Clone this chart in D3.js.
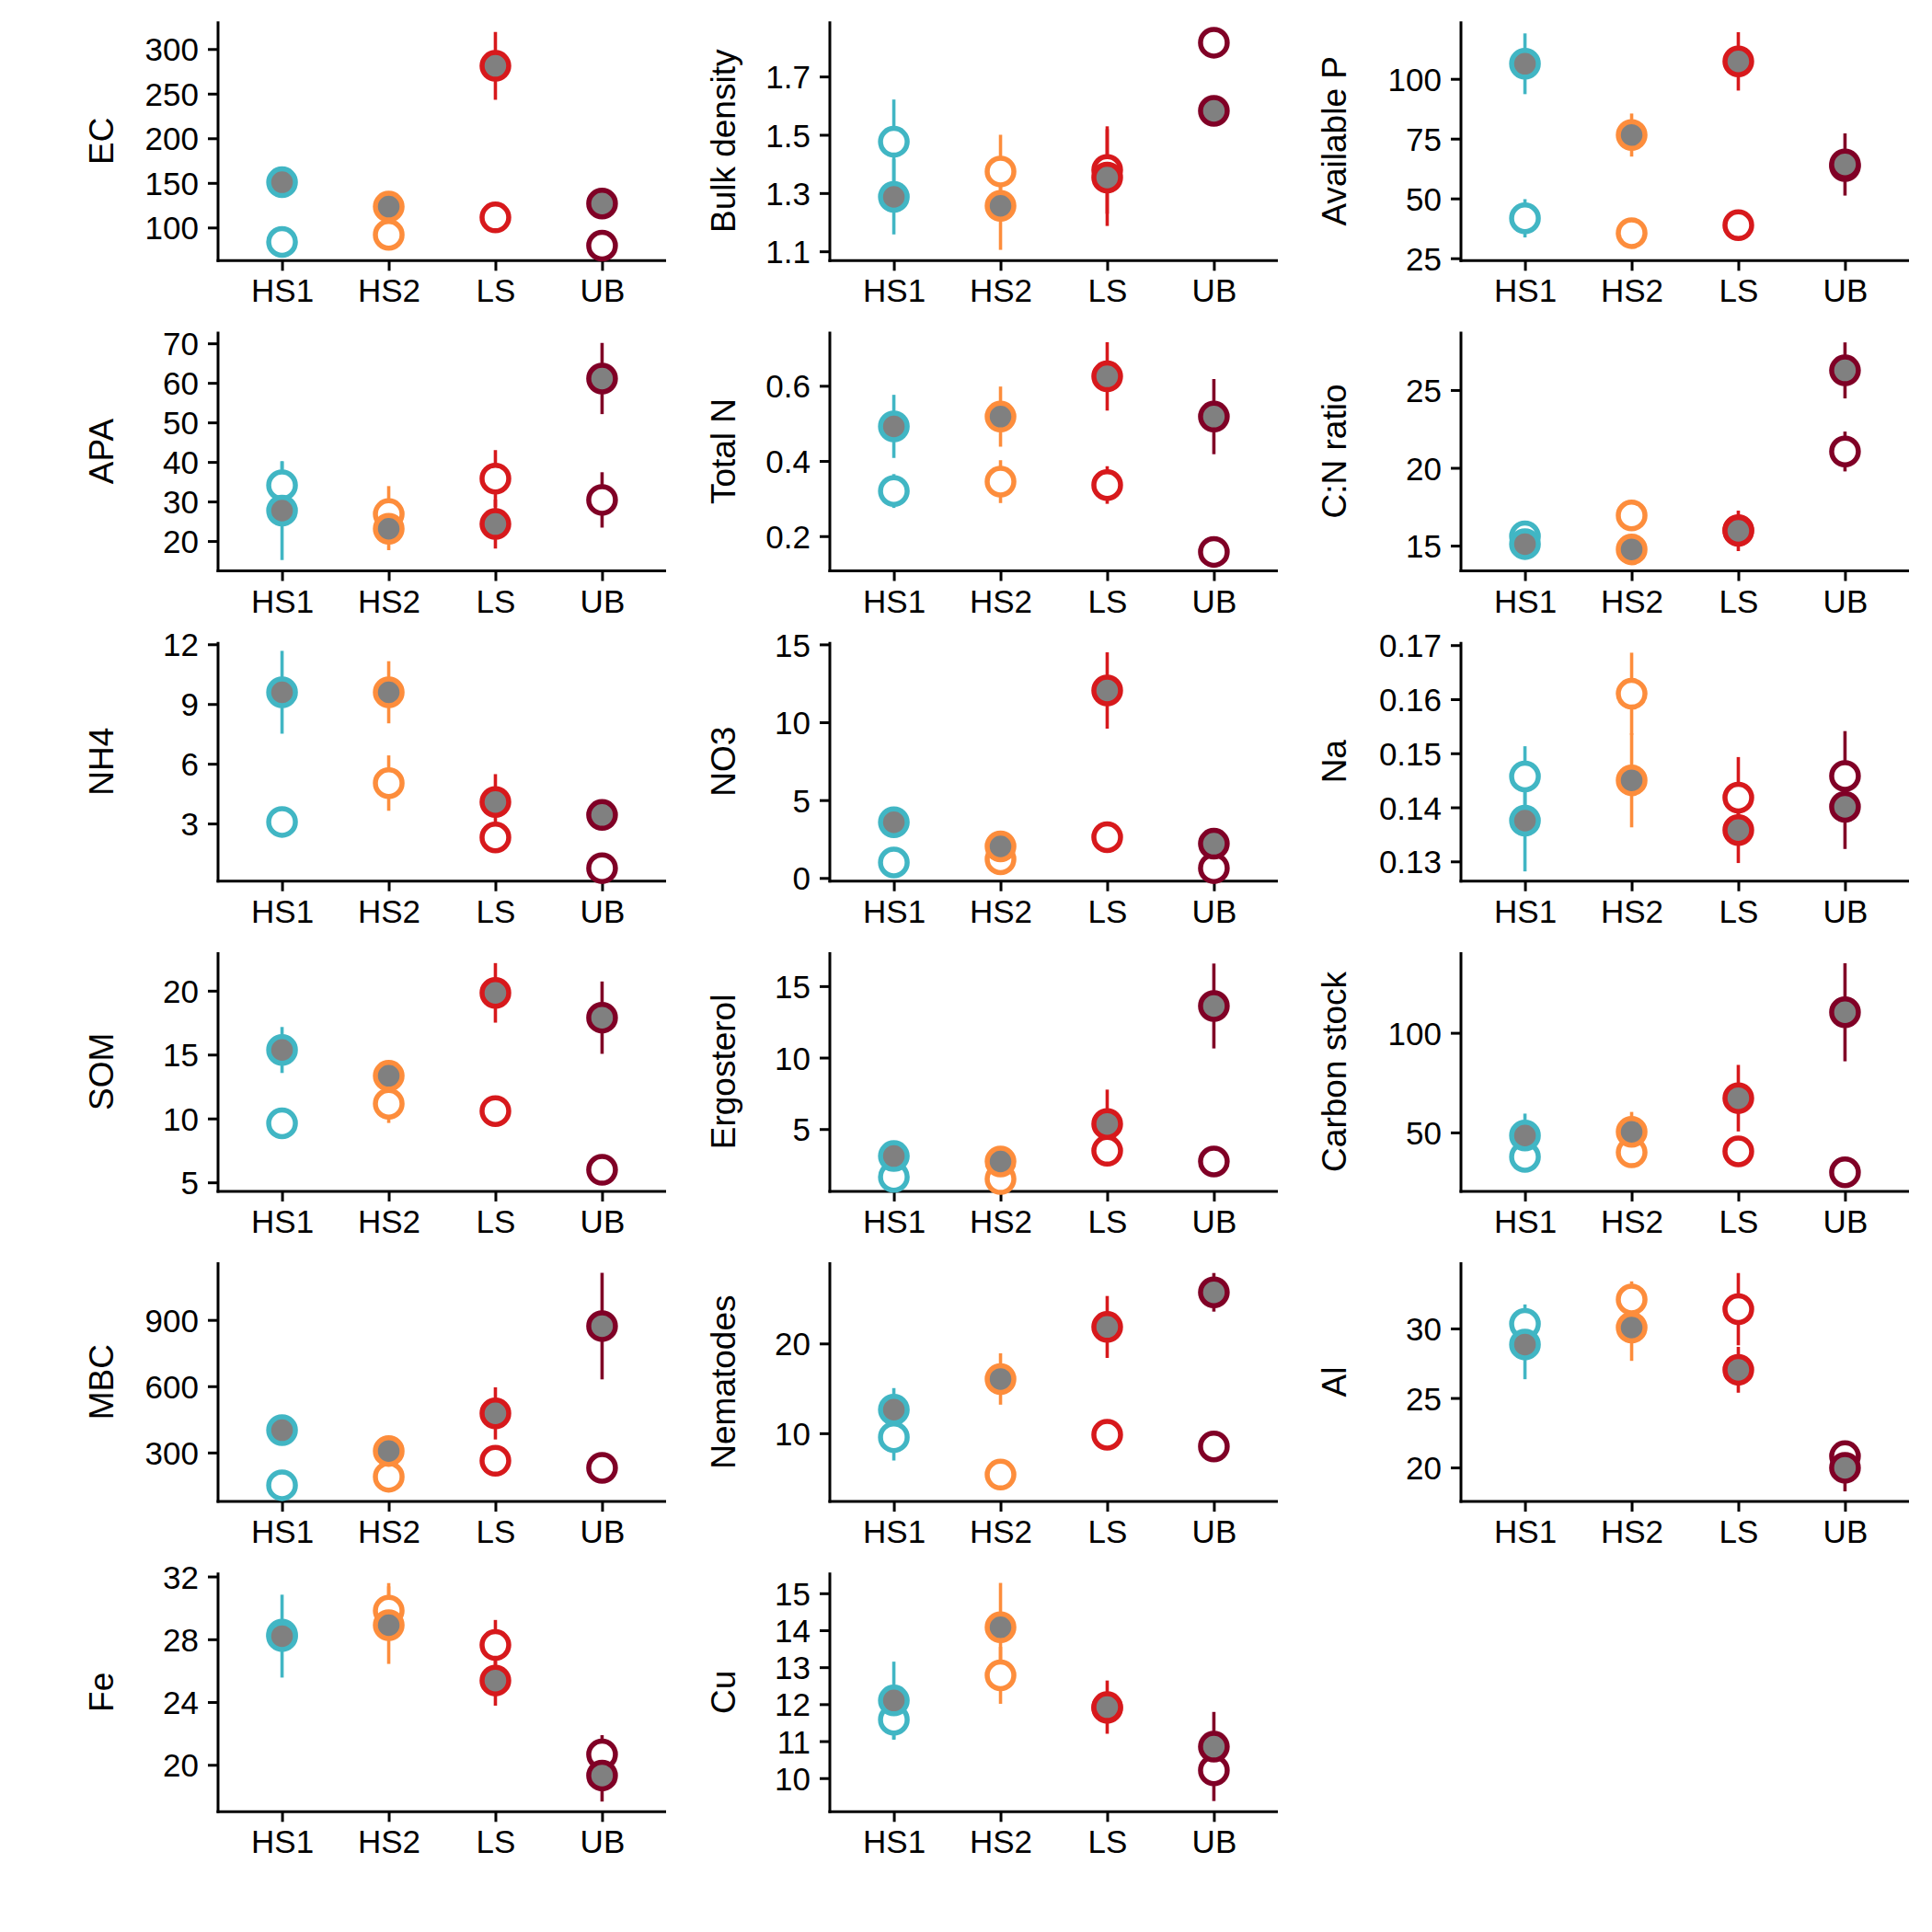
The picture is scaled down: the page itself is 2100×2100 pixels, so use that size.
<!DOCTYPE html>
<html>
<head>
<meta charset="utf-8">
<script src="https://cdn.jsdelivr.net/npm/d3@7"></script>
<style>
  html, body { margin: 0; padding: 0; background: #ffffff; }
  svg { display: block; }
  text { font-family: "Liberation Sans", Arial, Helvetica, sans-serif; fill: #000; }
</style>
</head>
<body>
<svg id="chart" width="2100" height="2100"></svg>
<script>
// ---------------- DATA ----------------
const categories = ["HS1", "HS2", "LS", "UB"];
const categoryColors = ["#41B6C4", "#FD8D3C", "#D7191C", "#800026"];

const variables = ["EC", "Bulk density", "Available P", "APA", "Total N", "C:N ratio",
  "NH4", "NO3", "Na", "SOM", "Ergosterol", "Carbon stock",
  "MBC", "Nematodes", "Al", "Fe", "Cu"];

// filled (grey) points: mean per category
const filledMean = [
  [150.7, 123.4, 281.1, 126.8],
  [1.287, 1.256, 1.353, 1.582],
  [106.3, 76.5, 107.3, 64.2],
  [27.7, 23.1, 24.3, 61.1],
  [0.492, 0.518, 0.625, 0.518],
  [15.1, 14.76, 15.95, 26.26],
  [9.59, 9.59, 4.08, 3.43],
  [3.58, 2.03, 12.04, 2.2],
  [0.13755, 0.1450, 0.1358, 0.1401],
  [15.36, 13.34, 19.83, 17.89],
  [3.11, 2.73, 5.36, 13.61],
  [48.46, 50.3, 67.2, 110.3],
  [401, 307, 477, 872],
  [12.63, 16.04, 21.84, 25.7],
  [28.85, 30.07, 27.03, 19.98],
  [28.2, 28.9, 25.37, 19.32],
  [12.1, 14.08, 11.92, 10.85]
];
const filledErr = [
  [5, 5, 38, 4],
  [0.129, 0.151, 0.166, 0.02],
  [12.7, 9, 12.2, 13],
  [12.5, 5.4, 6.2, 9],
  [0.084, 0.08, 0.091, 0.1],
  [0.5, 0.5, 1.3, 1.8],
  [2.08, 1.56, 1.4, 0.3],
  [0.5, 0.5, 2.45, 0.3],
  [0.0094, 0.0087, 0.0061, 0.0078],
  [1.8, 1.0, 2.33, 2.83],
  [0.4, 0.4, 2.4, 2.97],
  [11, 10, 16.7, 24.6],
  [40, 40, 118, 241],
  [2.4, 2.86, 3.45, 2.15],
  [2.5, 2.4, 1.65, 1.7],
  [2.64, 2.47, 1.6, 1.66],
  [1.05, 1.2, 0.72, 0.94]
];
// open (white) points: mean per category
const openMean = [
  [83.8, 91.8, 111.3, 79.7],
  [1.476, 1.374, 1.379, 1.816],
  [41.7, 35.5, 38.8, 63.5],
  [34.1, 26.8, 35.8, 30.4],
  [0.320, 0.345, 0.336, 0.158],
  [15.6, 16.94, 16.0, 21.05],
  [3.08, 5.03, 2.30, 0.76],
  [0.99, 1.2, 2.62, 0.63],
  [0.1457, 0.161, 0.1418, 0.1458],
  [9.62, 11.15, 10.58, 5.98],
  [1.65, 1.5, 3.48, 2.73],
  [37.7, 40, 40.5, 30],
  [152, 190.5, 262.6, 230.7],
  [9.56, 5.39, 9.83, 8.53],
  [30.33, 32.09, 31.39, 20.81],
  [28.3, 29.82, 27.63, 20.66],
  [11.58, 12.78, 11.9, 10.21]
];
const openErr = [
  [4, 5, 4, 4],
  [0.145, 0.126, 0.15, 0.02],
  [8, 3, 3, 3],
  [6, 7.1, 7.2, 7],
  [0.045, 0.057, 0.05, 0.01],
  [0.5, 0.5, 0.6, 1.28],
  [0.3, 1.39, 0.3, 0.3],
  [0.3, 0.3, 0.3, 0.3],
  [0.0056, 0.0076, 0.0075, 0.0083],
  [0.4, 1.5, 0.5, 0.3],
  [0.4, 0.4, 0.4, 0.3],
  [4, 4, 4, 3],
  [25, 40, 40, 40],
  [2.6, 0.6, 0.6, 0.6],
  [1.4, 1.3, 2.6, 0.8],
  [0.8, 1.76, 1.6, 1.23],
  [0.54, 0.77, 0.3, 0.83]
];
// y-axis limits and tick values per panel
const yLimits = [
  [62.9, 330.9], [1.068, 1.889], [24.0, 124.0],
  [12.46, 72.95], [0.1076, 0.744], [13.38, 28.75],
  [0.11, 12.12], [-0.2, 15.16], [0.12636, 0.1706],
  [4.30, 23.02], [0.644, 17.38], [20.46, 140.5],
  [78.3, 1160.5], [2.39, 29.04], [17.55, 34.76],
  [17.01, 32.25], [9.09, 15.56]
];
const yTickValues = [
  [100, 150, 200, 250, 300], [1.1, 1.3, 1.5, 1.7], [25, 50, 75, 100],
  [20, 30, 40, 50, 60, 70], [0.2, 0.4, 0.6], [15, 20, 25],
  [3, 6, 9, 12], [0, 5, 10, 15], [0.13, 0.14, 0.15, 0.16, 0.17],
  [5, 10, 15, 20], [5, 10, 15], [50, 100],
  [300, 600, 900], [10, 20], [20, 25, 30],
  [20, 24, 28, 32], [10, 11, 12, 13, 14, 15]
];

// ---------------- LAYOUT ----------------
const colX = [237, 902, 1588];       // y-axis line x per column
const titleX = [110, 786, 1450];     // y-title center x per column
const panelW = 487;
const panelH = 260;
const firstTop = 23.3;
const rowStep = 337.2;
const tickFont = 35;
const titleFont = 37;
const tickLen = 11;
const ptR = 14.5;
const ptStroke = 5.5;
const errWidth = 3.6;
const greyFill = "#808080";

const svg = d3.select("#chart");
svg.append("rect").attr("width", 2100).attr("height", 2100).attr("fill", "#fff");

variables.forEach((name, i) => {
  const row = Math.floor(i / 3), col = i % 3;
  const x0 = colX[col];
  const top = firstTop + row * rowStep;
  const bottom = top + panelH;

  // ggplot-like discrete scale: positions 1..4 in [0.4, 4.6]
  const x = d3.scaleLinear().domain([0.4, 4.6]).range([x0, x0 + panelW]);
  const y = d3.scaleLinear().domain(yLimits[i]).range([bottom, top]);

  const g = svg.append("g");

  // Y axis
  const yAxis = d3.axisLeft(y)
    .tickValues(yTickValues[i])
    .tickSizeInner(tickLen).tickSizeOuter(0).tickPadding(10)
    .tickFormat(d => String(+d.toFixed(6)));
  const ya = g.append("g").attr("transform", `translate(${x0},0)`).call(yAxis);
  ya.select(".domain").remove();
  ya.selectAll(".tick line").attr("stroke", "#000").attr("stroke-width", 3);
  ya.selectAll(".tick text").attr("font-size", tickFont).attr("fill", "#000")
    .attr("dy", "0.36em").attr("font-family", "Liberation Sans, Arial, sans-serif");

  // X axis
  const xAxis = d3.axisBottom(x)
    .tickValues([1, 2, 3, 4])
    .tickSizeInner(tickLen).tickSizeOuter(0).tickPadding(9)
    .tickFormat(d => categories[d - 1]);
  const xa = g.append("g").attr("transform", `translate(0,${bottom})`).call(xAxis);
  xa.select(".domain").remove();
  xa.selectAll(".tick line").attr("stroke", "#000").attr("stroke-width", 3);
  xa.selectAll(".tick text").attr("font-size", tickFont).attr("fill", "#000")
    .attr("dy", "0.72em").attr("font-family", "Liberation Sans, Arial, sans-serif");

  // axis lines
  g.append("line").attr("x1", x0).attr("x2", x0)
    .attr("y1", top).attr("y2", bottom + 1.5)
    .attr("stroke", "#000").attr("stroke-width", 3);
  g.append("line").attr("x1", x0 - 1.5).attr("x2", x0 + panelW)
    .attr("y1", bottom).attr("y2", bottom)
    .attr("stroke", "#000").attr("stroke-width", 3);

  // Y title
  const cy = (top + bottom) / 2;
  g.append("text")
    .attr("transform", `translate(${titleX[col]},${cy}) rotate(-90)`)
    .attr("text-anchor", "middle")
    .attr("dy", "0.36em")
    .attr("font-size", titleFont)
    .text(name);

  const filled = categories.map((c, k) => ({ k, m: filledMean[i][k], e: filledErr[i][k] }));
  const open = categories.map((c, k) => ({ k, m: openMean[i][k], e: openErr[i][k] }));

  // error bars (all first)
  g.selectAll(null).data(open.concat(filled)).enter().append("line")
    .attr("x1", d => x(d.k + 1)).attr("x2", d => x(d.k + 1))
    .attr("y1", d => y(d.m - d.e)).attr("y2", d => y(d.m + d.e))
    .attr("stroke", d => categoryColors[d.k]).attr("stroke-width", errWidth);

  // open points
  g.selectAll(null).data(open).enter().append("circle")
    .attr("cx", d => x(d.k + 1)).attr("cy", d => y(d.m)).attr("r", ptR)
    .attr("fill", "#fff").attr("stroke", d => categoryColors[d.k]).attr("stroke-width", ptStroke);

  // filled points
  g.selectAll(null).data(filled).enter().append("circle")
    .attr("cx", d => x(d.k + 1)).attr("cy", d => y(d.m)).attr("r", ptR)
    .attr("fill", greyFill).attr("stroke", d => categoryColors[d.k]).attr("stroke-width", ptStroke);
});
</script>
</body>
</html>
